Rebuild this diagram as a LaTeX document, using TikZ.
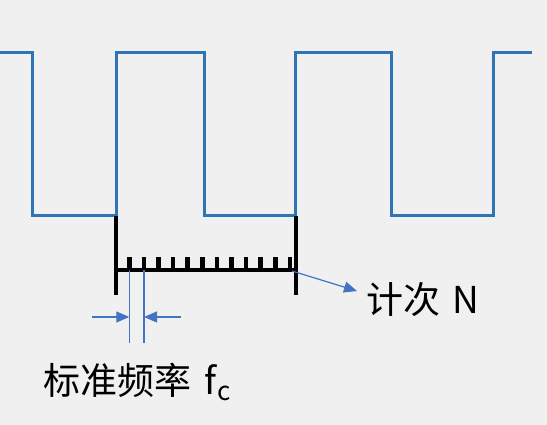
\documentclass[tikz,border=0pt]{standalone}
\usepackage{fontspec}
\newfontfamily\cjk{Noto Sans CJK SC}
\usetikzlibrary{arrows.meta}

\definecolor{wave}{RGB}{46,117,182}
\definecolor{markblue}{RGB}{68,114,196}
\definecolor{paper}{RGB}{240,240,240}

\begin{document}
\begin{tikzpicture}[x=1pt, y=-1pt, >={Triangle[length=13pt,width=11pt]},
  txt/.style={font=\cjk\fontsize{37}{40}\selectfont, inner sep=0pt, anchor=base west},
  bar/.style={line width=4pt, line cap=butt},
  fine/.style={draw=markblue, line width=1.2pt}]

\fill [paper] (0,0) rectangle (547,425);
\useasboundingbox (0,0) rectangle (547,425);

% square wave
\draw [wave, line width=3pt] (0,53) -| (32,216) -| (116,53) -| (204,216)
  -| (295,53) -| (391,216) -| (493,53) -- (532,53);

% gate and counter
\coordinate (gate-start) at (116,270);
\coordinate (gate-end) at (296,270);

\foreach \x in {116,296}
  \draw [bar] (\x,216) -- (\x,295);
\draw [bar] (gate-start) -- (gate-end);

\foreach \i in {0,...,11}
  \draw [bar, line width=4.6pt] (129.3+\i*14.6,257.5) -- ++(0,12.5);

% one period of the reference
\foreach \x [count=\i] in {129.3,144}
  \draw [fine] (\x,270) -- (\x,343);

\coordinate (in-l) at (92,317);
\coordinate (tip-l) at (129.3,317);
\coordinate (in-r) at (181,317);
\coordinate (tip-r) at (144,317);

\draw [fine, fill=markblue, ->] (in-l) -- (tip-l);
\draw [fine, fill=markblue, ->] (in-r) -- (tip-r);

% labels
\node [txt] (count) at (366,313) {计次\hspace{4pt} N};
\node [txt] (std) at (43,394) {标准频率\hspace{5pt} f\hspace{1pt}{\fontsize{26}{26}\selectfont\raisebox{-6pt}{c}}};

\draw [fine, fill=markblue, ->] ([xshift=-4pt,yshift=-1pt]gate-end) -- ([xshift=-9pt,yshift=8pt]count.west);

\end{tikzpicture}
\end{document}
